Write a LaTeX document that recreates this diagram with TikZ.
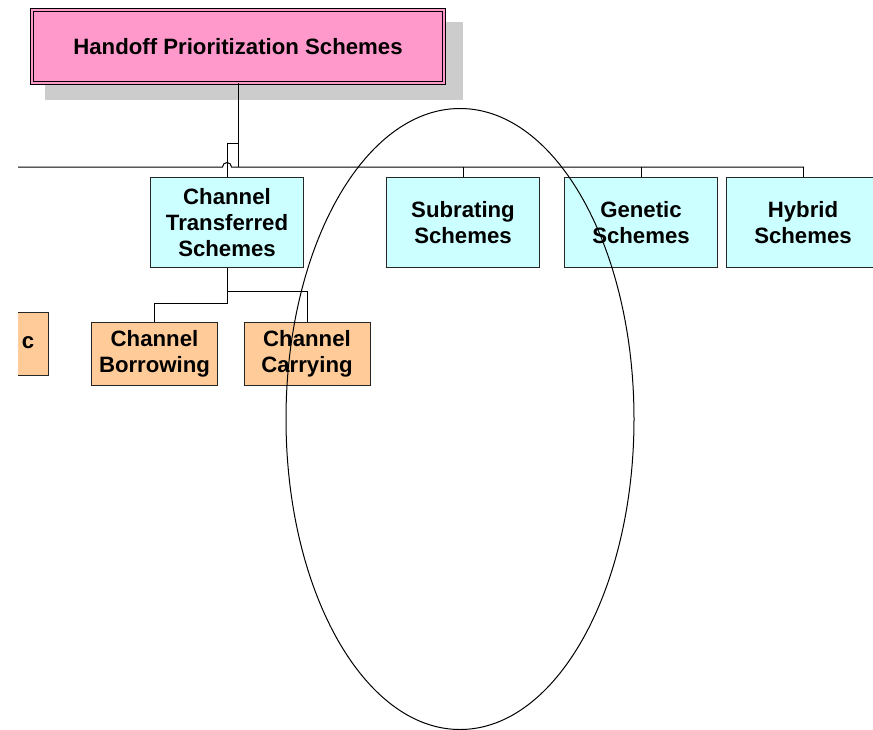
\documentclass[tikz,border=0pt]{standalone}
\usepackage{fontspec}
\setmainfont{Liberation Sans}
\definecolor{pinkbox}{HTML}{FF99CC}
\definecolor{cyanbox}{HTML}{CCFFFF}
\definecolor{orangebox}{HTML}{FFCC99}
\definecolor{shadowgray}{HTML}{CCCCCC}
\begin{document}
\begin{tikzpicture}[x=1pt,y=-1pt,
  lbl/.style={font=\fontsize{22.2}{26}\selectfont\bfseries, align=center, inner sep=0pt},
  catbox/.style={lbl, draw=black!85, line width=0.8pt, fill=cyanbox, minimum width=153pt, minimum height=90pt},
  subbox/.style={lbl, draw=black!85, line width=0.8pt, fill=orangebox, minimum width=126pt, minimum height=63pt},
  conn/.style={draw=black, line width=1pt}]
\useasboundingbox (0,0) rectangle (873,729);
\begin{scope}
\clip (18,0) rectangle (873,729);
% shadow and root
\fill[shadowgray] (45,22) rectangle (463,100);
\node[lbl, draw=black, fill=pinkbox, double=pinkbox, double distance=1.8pt, line width=0.9pt,
      minimum width=412pt, minimum height=73pt] (root) at (238,46.5) {Handoff Prioritization Schemes};
% category boxes
\node[catbox] (ct)  at (227,222.5) {Channel\\Transferred\\Schemes};
\node[catbox] (sub) at (463,222.5) {Subrating\\Schemes};
\node[catbox] (gen) at (641,222.5) {Genetic\\Schemes};
\node[catbox] (hyb) at (803,222.5) {Hybrid\\Schemes};
% sub boxes
\node[subbox] (dyn) at (-15,344) {};
\node[lbl] (dynlbl) at (28,343) {c};
\node[subbox] (bor) at (154.5,354) {Channel\\Borrowing};
\node[subbox] (car) at (307,354) {Channel\\Carrying};
% connectors
\coordinate (busL) at (18,167);
\coordinate (busR) at (804,167);
\coordinate (ctj) at (238,143);
\draw[conn] (root.south) -- (root.south |- busL);
\draw[conn] (busL) -- (222.5,167) arc[start angle=180, end angle=360, radius=4.5] -- (busR);
\draw[conn] (ct.north) |- (ctj);
\draw[conn] (sub.north) -- (sub.north |- busL);
\draw[conn] (gen.north) -- (gen.north |- busL);
\draw[conn] (hyb.north) -- (hyb.north |- busL);
\draw[conn] (ct.south) -- ++(0,36) -| (bor.north);
\draw[conn] (ct.south) ++(0,24) -| (car.north);
% ellipse
\draw[line width=1pt] (460,419) ellipse [x radius=174, y radius=310.5];
\end{scope}
\end{tikzpicture}
\end{document}
